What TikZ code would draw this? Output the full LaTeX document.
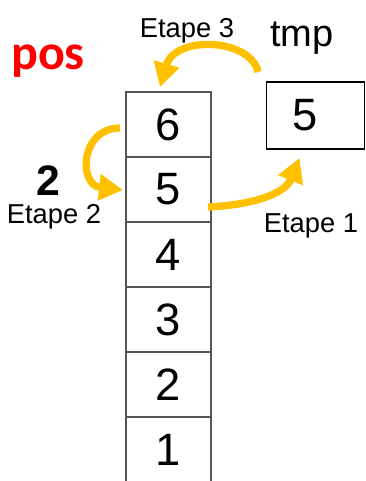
\documentclass[tikz,border=0pt]{standalone}
\usepackage{fontspec}
\setmainfont{Liberation Sans}
\newfontfamily\posfont{Carlito}
\usetikzlibrary{positioning,arrows.meta,calc}
\definecolor{StepGold}{RGB}{255,192,0}
\definecolor{PosRed}{RGB}{255,0,0}
\definecolor{CellGrey}{RGB}{85,85,85}
\tikzset{
  goldflow/.style={-{Triangle[length=18pt,width=19pt]},line width=5.5pt,draw=StepGold},
  cell/.style={draw=CellGrey,line width=1.1pt,minimum width=63.75pt,
    minimum height=48.75pt,inner sep=0pt,outer sep=0pt,font=\fontsize{34}{34}\selectfont},
  cellside/.style={draw=CellGrey,line width=1.1pt},
  tmpbox/.style={draw=black,line width=0.8pt,minimum width=74pt,
    minimum height=50.25pt,inner sep=0pt,outer sep=0pt},
  digit/.style={font=\fontsize{34}{34}\selectfont,inner sep=0pt},
  steplabel/.style={anchor=base,inner sep=0pt,font=\fontsize{20.5}{20.5}\selectfont},
  biglabel/.style={anchor=base,inner sep=0pt,font=\fontsize{28.5}{28.5}\selectfont}
}

\begin{document}
\begin{tikzpicture}[x=0.75pt,y=-0.75pt,node distance=0pt]
  \useasboundingbox (0,0) rectangle (366,481);
  % the array, top cell first
  \node[cell] (c6) at (168.5,124.5) {6};
  \node[cell,below=of c6] (c5) {5};
  \node[cell,below=of c5] (c4) {4};
  \node[cell,below=of c4] (c3) {3};
  \node[cell,below=of c3] (c2) {2};
  \node[cell,draw=none,below=of c2] (c1) {1};
  \draw[cellside] (c1.north west) -- (c1.south west) (c1.north east) -- (c1.south east);
  % tmp variable
  \node[tmpbox] (tmp) at (315.5,115.5) {};
  \node[digit] (tmpval) at ($(tmp)+(-10,0)$) {5};
  % labels
  \node[anchor=base,inner sep=0pt,text=PosRed,font=\posfont\bfseries\fontsize{37.5}{37.5}\selectfont] (pos) at (48,70) {pos};
  \node[biglabel] (tmpname) at (302,47) {tmp};
  \node[biglabel,font=\bfseries\fontsize{32}{32}\selectfont] (posval) at (48,195) {2};
  \node[steplabel] (e3) at (187,38) {Etape 3};
  \node[steplabel] (e2) at (54,223) {Etape 2};
  \node[steplabel] (e1) at (311,232) {Etape 1};
  % the three steps
  \draw[goldflow] ($(c5.south east)+(-3,-15)$) .. controls +(42,-2) and +(-15,37) .. ($(tmp.south)+(-16,9)$);
  \draw[goldflow] ($(c6.west)+(-6,3.5)$) .. controls +(-40,0) and +(-45,-5) .. ($(c5.west)+(-3,0.5)$);
  \draw[goldflow] ($(tmp.north west)+(-8,-10)$) .. controls +(-8,-34) and +(15,-52) .. ($(c6.north)+(-8.5,-5)$);
\end{tikzpicture}
\end{document}
